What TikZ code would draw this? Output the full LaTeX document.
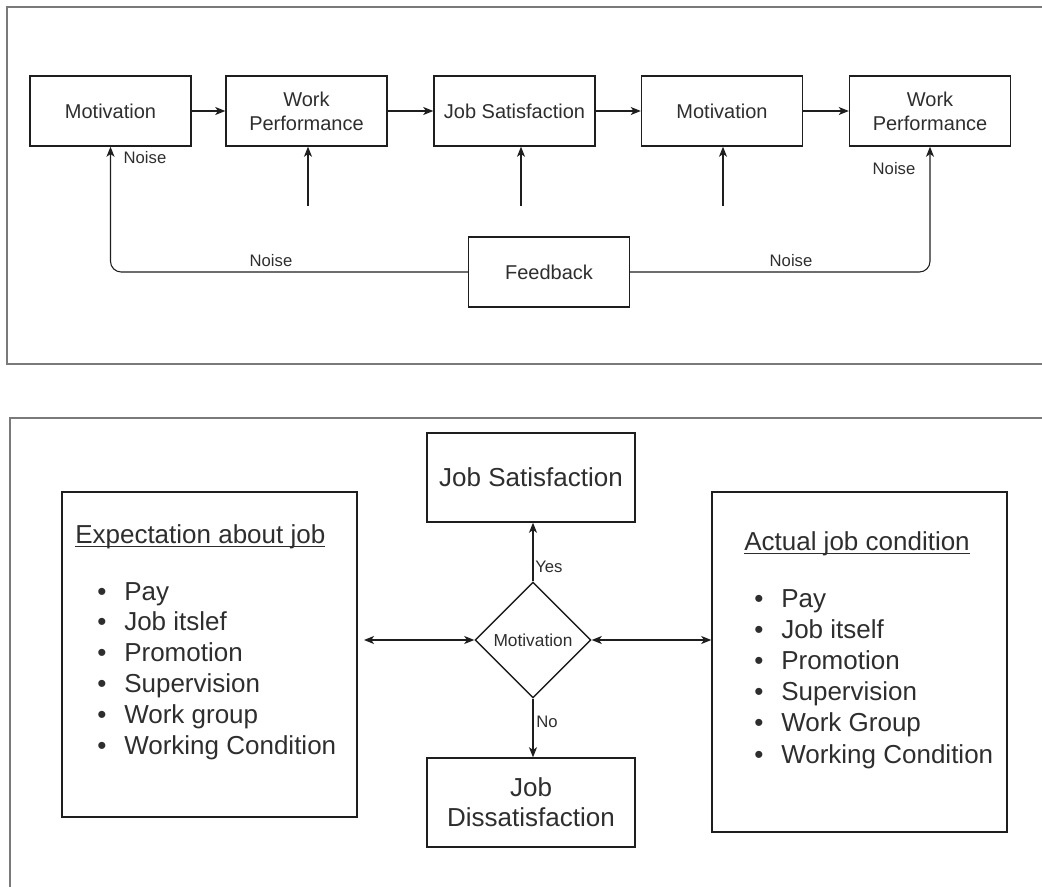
\documentclass[tikz,border=0pt]{standalone}
\usepackage{fontspec}
\setmainfont{Liberation Sans}
\usetikzlibrary{shapes.geometric,arrows.meta}

\definecolor{ink}{HTML}{1E1E1E}
\definecolor{txt}{HTML}{2E2E2E}
\definecolor{framegray}{HTML}{7A7A7A}

% underlined heading with the rule just below the baseline
\newcommand\ulbox[1]{\setbox0=\hbox{#1}\rlap{\rule[-2.8pt]{\wd0}{0.9pt}}\box0}

\begin{document}
\begin{tikzpicture}[x=0.75pt,y=-0.75pt,
  box/.style={draw=ink, line width=1.1pt, inner sep=0pt, text=txt, align=center},
  flowbox/.style={box, minimum width=120.75pt, minimum height=52.5pt,
    font=\fontsize{15}{18}\selectfont},
  bigbox/.style={box, minimum width=156pt, minimum height=66.75pt,
    font=\fontsize{19.5}{22.5}\selectfont},
  listbox/.style={box, minimum width=221.25pt},
  decision/.style={box, diamond, minimum width=87pt, minimum height=87pt,
    font=\fontsize{13}{15}\selectfont},
  conn/.style={draw=ink, line width=0.8pt,
    -{Stealth[length=7.5pt,width=6pt,inset=2pt]}},
  bothconn/.style={conn,
    {Stealth[length=7.5pt,width=6pt,inset=2pt]}-{Stealth[length=7.5pt,width=6pt,inset=2pt]}},
  small/.style={inner sep=0pt, text=txt, font=\fontsize{12.5}{14}\selectfont},
  item/.style={inner sep=0pt, anchor=base west, text=txt,
    font=\fontsize{19.5}{23}\selectfont},
  dot/.style={item, anchor=base},
  frame/.style={draw=framegray, line width=1.4pt}]

\useasboundingbox (0,0) rectangle (1042,887);
\clip (0,0) rectangle (1042,887);

% ---------- upper panel: feedback loop ----------
\draw[frame] (7,7) rectangle (1070,364);

\node[flowbox] (m1)  at (110.5,111) {Motivation};
\node[flowbox] (wp1) at (306.5,111) {Work\\Performance};
\node[flowbox] (js1) at (514.5,111) {Job Satisfaction};
\node[flowbox] (m2)  at (722,111)   {Motivation};
\node[flowbox] (wp2) at (930,111)   {Work\\Performance};
\node[flowbox] (fb)  at (549,272)   {Feedback};

\draw[conn] (m1) -- (wp1);
\draw[conn] (wp1) -- (js1);
\draw[conn] (js1) -- (m2);
\draw[conn] (m2) -- (wp2);

\coordinate (in1) at (308,206);
\coordinate (in2) at (521,206);
\coordinate (in3) at (723,206);
\draw[conn] (in1) -- (in1 |- wp1.south);
\draw[conn] (in2) -- (in2 |- js1.south);
\draw[conn] (in3) -- (in3 |- m2.south);

\draw[conn, rounded corners=8pt] (fb.west) -| (m1.south);
\draw[conn, rounded corners=8pt] (fb.east) -| (wp2.south);

\node[small] (n1) at (145,158) {Noise};
\node[small] (n2) at (894,169) {Noise};
\node[small] (n3) at (271,261) {Noise};
\node[small] (n4) at (791,261) {Noise};

% ---------- lower panel: expectation vs. actual condition ----------
\draw[frame] (10,418) rectangle (1070,900);

\node[bigbox] (js2) at (531,477.5) {Job Satisfaction};
\node[bigbox] (jd)  at (531,802.5) {Job\\Dissatisfaction};
\node[decision] (dm) at (533,640) {Motivation};

\node[listbox, minimum height=243.75pt] (lb) at (209.5,654.5) {};
\node[listbox, minimum height=255pt]    (rb) at (859.5,662)   {};

\node[item] (eh) at (75,543)  {\ulbox{Expectation about job}};
\node[item] (ah) at (744,550) {\ulbox{Actual job condition}};

\foreach \t [count=\i] in {Pay,Job itslef,Promotion,Supervision,Work group,Working Condition} {
  \node[item] (ea\i) at (124,{600+30.8*(\i-1)}) {\t};
  \node[dot]  (eb\i) at (102,{600+30.8*(\i-1)}) {\textbullet};
}
\foreach \t [count=\i] in {Pay,Job itself,Promotion,Supervision,Work Group,Working Condition} {
  \node[item] (aa\i) at (781,{607+31.2*(\i-1)}) {\t};
  \node[dot]  (ab\i) at (759,{607+31.2*(\i-1)}) {\textbullet};
}

\draw[conn] (dm.north) -- (dm.north |- js2.south);
\draw[conn] (dm.south) -- (dm.south |- jd.north);
\coordinate (lt) at (364,640);
\draw[bothconn] (lt) -- (dm.west);
\draw[bothconn] (dm.east) -- (dm.east -| rb.west);

\node[small, anchor=west] (yes) at (535,567) {Yes};
\node[small, anchor=west] (no)  at (536,722) {No};

\end{tikzpicture}
\end{document}
